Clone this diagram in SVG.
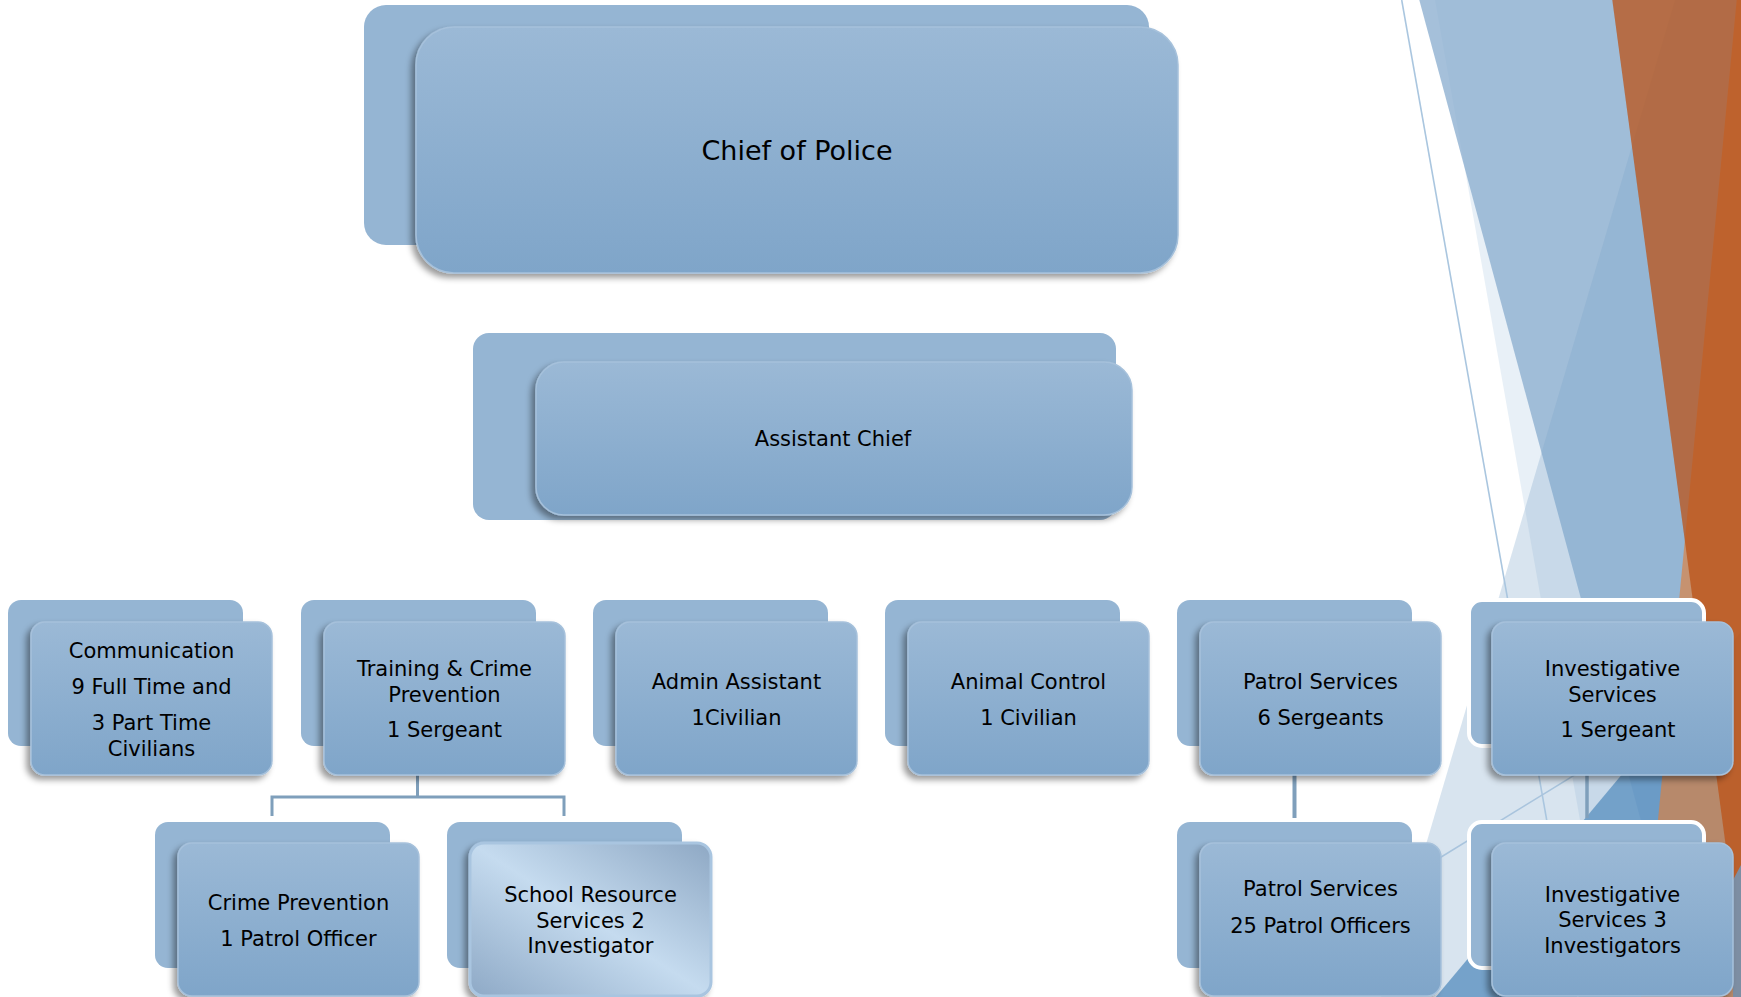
<svg xmlns="http://www.w3.org/2000/svg" width="1741" height="997" viewBox="0 0 1741 997">
<defs>
<linearGradient id="gf" x1="0" y1="0" x2="0" y2="1">
<stop offset="0" stop-color="#9bb9d6"/>
<stop offset="1" stop-color="#7fa5c9"/>
</linearGradient>
<linearGradient id="gs" x1="0" y1="1" x2="1" y2="0">
<stop offset="0" stop-color="#8ea9c6"/>
<stop offset="0.5" stop-color="#c5dbef"/>
<stop offset="1" stop-color="#8ea8c4"/>
</linearGradient>
<filter id="sh" x="-10%" y="-10%" width="125%" height="130%">
<feDropShadow dx="-4" dy="4" stdDeviation="3" flood-color="#000" flood-opacity="0.4"/>
</filter>
<style>
.bk{fill:#95b5d3}
.bw{fill:#95b5d3;stroke:#fff;stroke-width:4}
.fr{fill:url(#gf);stroke:#a6c1db;stroke-width:1.5;filter:url(#sh)}
.frs{fill:url(#gs);stroke:#a9c5e0;stroke-width:3;filter:url(#sh)}
.t{font-family:"DejaVu Sans",Verdana,sans-serif;font-size:21px;fill:#000;text-anchor:middle}
.cn{fill:none;stroke:#7f9fbb}
</style>
</defs>
<rect width="1741" height="997" fill="#fff"/>
<g id="background">
<polygon points="1435,0 1741,0 1741,997 1611.3,997" fill="#a4c2de" opacity="0.25"/>
<polygon points="1419.3,0 1741,0 1741,997 1688.5,997" fill="#8caed0" opacity="0.78"/>
<polygon points="1675,0 1741,0 1741,997 1381,997" fill="#7fa5c9" opacity="0.3"/>
<polygon points="1741,632 1741,997 1435.8,997" fill="#6496c3" opacity="0.85"/>
<polygon points="1736.7,0 1741,0 1741,997 1641,997" fill="#de7f3d" opacity="0.667"/>
<polygon points="1612.3,0 1741,0 1741,959.5" fill="#bb5318" opacity="0.755"/>
<polygon points="1733,880 1741,865 1741,997 1733,997" fill="#7d8ea3"/>
<line x1="1401.7" y1="0" x2="1578" y2="997" stroke="#aac6df" stroke-width="1.6"/>
<line x1="1420" y1="870" x2="1700" y2="698" stroke="#a9c4dd" stroke-width="1.5"/>
</g>
<g id="connectors">
<path class="cn" stroke-width="3" d="M417.5,775 V797 M272,816 V797 H564 V816"/>
<path class="cn" stroke-width="4" d="M1294.5,775 V818"/>
<path class="cn" stroke-width="3.5" d="M1587,775 V818"/>
</g>
<g id="chief">
<rect class="bk" x="364" y="5" width="785" height="240" rx="22"/>
<rect class="fr" x="416" y="27" width="762" height="246" rx="38"/>
<text class="t" x="797" y="160" style="font-size:27px">Chief of Police</text>
</g>
<g id="assistant">
<rect class="bk" x="473" y="333" width="643" height="187" rx="16"/>
<rect class="fr" x="536" y="362" width="596" height="153" rx="28"/>
<text class="t" x="833" y="446">Assistant Chief</text>
</g>
<g id="communication">
<rect class="bk" x="8" y="600" width="235" height="146" rx="13"/>
<rect class="fr" x="31" y="622" width="241" height="153" rx="14"/>
<text class="t" x="151.5" y="658">Communication</text>
<text class="t" x="151.5" y="694">9 Full Time and</text>
<text class="t" x="151.5" y="730">3 Part Time</text>
<text class="t" x="151.5" y="756">Civilians</text>
</g>
<g id="training">
<rect class="bk" x="301" y="600" width="235" height="146" rx="13"/>
<rect class="fr" x="324" y="622" width="241" height="153" rx="14"/>
<text class="t" x="444.5" y="676">Training &amp; Crime</text>
<text class="t" x="444.5" y="702">Prevention</text>
<text class="t" x="444.5" y="737">1 Sergeant</text>
</g>
<g id="admin">
<rect class="bk" x="593" y="600" width="235" height="146" rx="13"/>
<rect class="fr" x="616" y="622" width="241" height="153" rx="14"/>
<text class="t" x="736.5" y="689">Admin Assistant</text>
<text class="t" x="736.5" y="725">1Civilian</text>
</g>
<g id="animal">
<rect class="bk" x="885" y="600" width="235" height="146" rx="13"/>
<rect class="fr" x="908" y="622" width="241" height="153" rx="14"/>
<text class="t" x="1028.5" y="689">Animal Control</text>
<text class="t" x="1028.5" y="725">1 Civilian</text>
</g>
<g id="patrol">
<rect class="bk" x="1177" y="600" width="235" height="146" rx="13"/>
<rect class="fr" x="1200" y="622" width="241" height="153" rx="14"/>
<text class="t" x="1320.5" y="689">Patrol Services</text>
<text class="t" x="1320.5" y="725">6 Sergeants</text>
</g>
<g id="investigative">
<rect class="bw" x="1469" y="600" width="235" height="146" rx="13"/>
<rect class="fr" x="1492" y="622" width="241" height="153" rx="14"/>
<text class="t" x="1612.5" y="676">Investigative</text>
<text class="t" x="1612.5" y="702">Services</text>
<text class="t" x="1618" y="737">1 Sergeant</text>
</g>
<g id="crime-prevention">
<rect class="bk" x="155" y="822" width="235" height="146" rx="13"/>
<rect class="fr" x="178" y="843" width="241" height="153" rx="14"/>
<text class="t" x="298.5" y="910">Crime Prevention</text>
<text class="t" x="298.5" y="946">1 Patrol Officer</text>
</g>
<g id="school-resource">
<rect class="bk" x="447" y="822" width="235" height="146" rx="13"/>
<rect class="frs" x="470" y="843" width="241" height="153" rx="14"/>
<text class="t" x="590.5" y="902">School Resource</text>
<text class="t" x="590.5" y="928">Services 2</text>
<text class="t" x="590.5" y="953">Investigator</text>
</g>
<g id="patrol-officers">
<rect class="bk" x="1177" y="822" width="235" height="146" rx="13"/>
<rect class="fr" x="1200" y="843" width="241" height="153" rx="14"/>
<text class="t" x="1320.5" y="896">Patrol Services</text>
<text class="t" x="1320.5" y="933">25 Patrol Officers</text>
</g>
<g id="investigators">
<rect class="bw" x="1469" y="822" width="235" height="146" rx="13"/>
<rect class="fr" x="1492" y="843" width="241" height="153" rx="14"/>
<text class="t" x="1612.5" y="902">Investigative</text>
<text class="t" x="1612.5" y="927">Services 3</text>
<text class="t" x="1612.5" y="953">Investigators</text>
</g>
</svg>
